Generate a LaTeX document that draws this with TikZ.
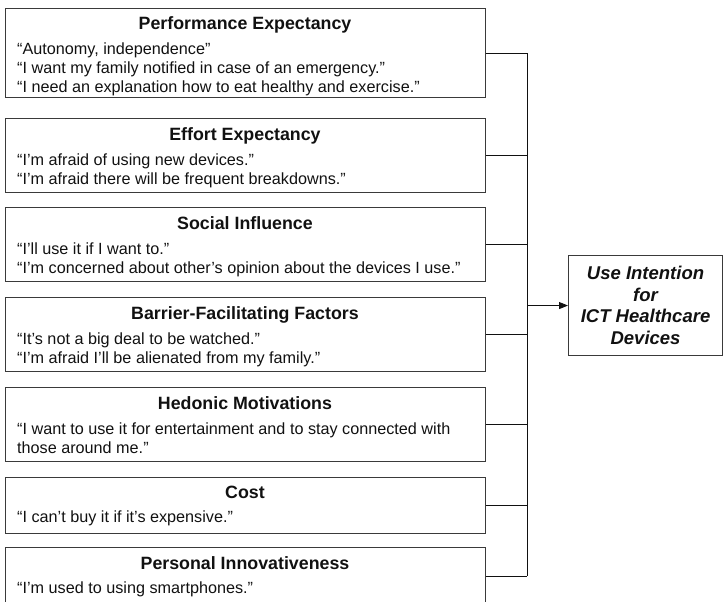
\documentclass[tikz,border=0pt]{standalone}
\usepackage{fontspec}
\setmainfont{Liberation Sans}
\usetikzlibrary{arrows.meta}

\definecolor{framecol}{HTML}{3A3A3A}
\definecolor{inkcol}{HTML}{111111}

\tikzset{
  factor/.style={draw=framecol, line width=1.1pt, minimum width=480pt,
    inner sep=0pt, anchor=north west},
  heading/.style={font=\fontsize{17.8}{20}\selectfont\bfseries, text=inkcol,
    anchor=base, inner sep=0pt},
  quotes/.style={font=\fontsize{16.2}{19}\selectfont, text=inkcol,
    anchor=base west, inner sep=0pt},
  wire/.style={draw=inkcol, line width=1pt},
  outcome/.style={draw=framecol, line width=1.1pt, minimum width=154pt,
    minimum height=100pt, anchor=north west, inner sep=0pt, align=center,
    text=inkcol, font=\fontsize{18.5}{21.5}\selectfont\bfseries\itshape}
}

\newcommand{\qlines}[1]{\parbox[t]{470pt}{\baselineskip=19pt #1}}

\begin{document}
\begin{tikzpicture}[x=1pt, y=-1pt]
  \useasboundingbox (0,0) rectangle (724,602);
  \clip (0,0) rectangle (724,602);

  % factor boxes (top edge, height)
  \node[factor, minimum height=89pt] (pe) at (5,8) {};
  \node[factor, minimum height=74pt] (ee) at (5,118) {};
  \node[factor, minimum height=74pt] (si) at (5,207) {};
  \node[factor, minimum height=74pt] (bf) at (5,297) {};
  \node[factor, minimum height=74pt] (hm) at (5,387) {};
  \node[factor, minimum height=56pt] (co) at (5,477) {};
  \node[factor, minimum height=57pt] (pi) at (5,547) {};

  % headings
  \node[heading] (pe-t) at (245,30)  {Performance Expectancy};
  \node[heading] (ee-t) at (245,140) {Effort Expectancy};
  \node[heading] (si-t) at (245,229) {Social Influence};
  \node[heading] (bf-t) at (245,319) {Barrier-Facilitating Factors};
  \node[heading] (hm-t) at (245,409) {Hedonic Motivations};
  \node[heading] (co-t) at (245,498) {Cost};
  \node[heading] (pi-t) at (245,569) {Personal Innovativeness};

  % quotations
  \node[quotes] (pe-q) at (17,55) {\qlines{“Autonomy, independence”\\
    “I want my family notified in case of an emergency.”\\
    “I need an explanation how to eat healthy and exercise.”}};
  \node[quotes] (ee-q) at (17,165) {\qlines{“I’m afraid of using new devices.”\\
    “I’m afraid there will be frequent breakdowns.”}};
  \node[quotes] (si-q) at (17,254) {\qlines{“I’ll use it if I want to.”\\
    “I’m concerned about other’s opinion about the devices I use.”}};
  \node[quotes] (bf-q) at (17,344) {\qlines{“It’s not a big deal to be watched.”\\
    “I’m afraid I’ll be alienated from my family.”}};
  \node[quotes] (hm-q) at (17,434) {\qlines{“I want to use it for entertainment and to stay connected with\\
    those around me.”}};
  \node[quotes] (co-q) at (17,522) {\qlines{“I can’t buy it if it’s expensive.”}};
  \node[quotes] (pi-q) at (17,593) {\qlines{“I’m used to using smartphones.”}};

  % outcome
  \node[outcome] (ui) at (568,255) {Use Intention\\for\\ICT Healthcare\\Devices};

  % collecting bus
  \coordinate (bus) at (527,0);
  \foreach \n in {pe,ee,si,bf,hm,co,pi}
    \draw[wire] (\n.east) -- (\n.east -| bus);
  \draw[wire] (pe.east -| bus) -- (pi.east -| bus);
  \draw[wire, -{Triangle[length=9pt,width=7pt]}] (bus |- ui.west) -- (ui.west);
\end{tikzpicture}
\end{document}
